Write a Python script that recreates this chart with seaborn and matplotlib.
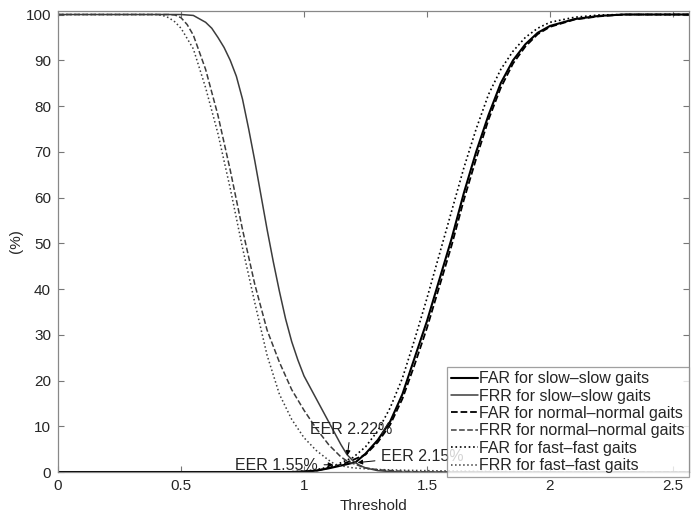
import numpy as np
import pandas as pd
import matplotlib
matplotlib.use("Agg")
import matplotlib.pyplot as plt
import seaborn as sns

# ===== 数据 =====
far_slow_x = [0, 0.95, 1.0, 1.05, 1.1, 1.15, 1.21, 1.25, 1.3, 1.35, 1.4, 1.45, 1.5, 1.55,
              1.6, 1.65, 1.7, 1.75, 1.8, 1.85, 1.9, 1.95, 2.0, 2.1, 2.2, 2.3, 2.565]
far_slow_y = [0, 0, 0.1, 0.3, 0.8, 1.4, 2.15, 4, 7, 11, 17, 25, 33, 42, 51, 61, 70, 78, 85,
              90, 93.5, 96, 97.5, 99, 99.7, 100, 100]

frr_slow_x = [0, 0.5, 0.55, 0.6, 0.625, 0.65, 0.675, 0.7, 0.725, 0.75, 0.775, 0.8, 0.825,
              0.85, 0.875, 0.9, 0.925, 0.95, 0.975, 1.0, 1.025, 1.05, 1.075, 1.1, 1.125,
              1.15, 1.175, 1.2, 1.225, 1.25, 1.3, 1.35, 1.4, 2.565]
frr_slow_y = [100, 100, 99.8, 98.3, 97, 95, 92.8, 90, 86.5, 81.5, 75, 68, 60.5, 53, 46,
              39.5, 33.5, 28.5, 24.5, 21, 18.5, 16, 13.5, 11, 8.5, 6, 3.8, 2.4, 1.5, 0.9,
              0.3, 0.1, 0, 0]

far_norm_x = [0, 0.95, 1.0, 1.05, 1.1, 1.15, 1.18, 1.25, 1.3, 1.35, 1.4, 1.45, 1.5, 1.55,
              1.6, 1.65, 1.7, 1.75, 1.8, 1.85, 1.9, 1.95, 2.0, 2.1, 2.2, 2.3, 2.565]
far_norm_y = [0, 0, 0.1, 0.3, 0.9, 1.6, 2.22, 3.8, 6.5, 10.3, 16, 23.5, 31.5, 40.5, 49.5,
              59.5, 68.5, 77, 84, 89.3, 93, 95.7, 97.3, 98.9, 99.6, 100, 100]

frr_norm_x = [0, 0.45, 0.475, 0.5, 0.525, 0.55, 0.6, 0.65, 0.7, 0.75, 0.8, 0.85, 0.9, 0.95,
              1.0, 1.05, 1.1, 1.15, 1.18, 1.25, 1.3, 1.4, 1.5, 2.565]
frr_norm_y = [100, 100, 99.9, 99.3, 97.8, 95.5, 88, 78, 66, 53, 41, 31, 24, 18, 13.5, 9.5,
              6, 3.3, 2.22, 0.9, 0.5, 0.15, 0, 0]

far_fast_x = [0, 0.92, 1.0, 1.05, 1.1, 1.13, 1.2, 1.25, 1.3, 1.35, 1.4, 1.45, 1.5, 1.55,
              1.6, 1.65, 1.7, 1.75, 1.8, 1.85, 1.9, 1.95, 2.0, 2.1, 2.2, 2.3, 2.565]
far_fast_y = [0, 0, 0.2, 0.5, 1.1, 1.55, 3.2, 5.5, 9, 14, 20.5, 29, 38, 47.5, 57, 66.5,
              75, 82.5, 88, 92, 95, 97, 98.3, 99.4, 99.9, 100, 100]

frr_fast_x = [0, 0.4, 0.425, 0.45, 0.475, 0.5, 0.55, 0.6, 0.65, 0.7, 0.75, 0.8, 0.85, 0.9,
              0.95, 1.0, 1.05, 1.1, 1.13, 1.2, 1.3, 1.4, 1.5, 1.7, 1.9, 2.2, 2.565]
frr_fast_y = [100, 100, 99.8, 99.3, 98.4, 97, 92.5, 84, 74, 62, 49, 37, 25.5, 17, 11.5,
              7.5, 4.7, 2.6, 1.55, 0.9, 0.55, 0.4, 0.3, 0.15, 0.08, 0, 0]

labels = ["FAR for slow\u2013slow gaits", "FRR for slow\u2013slow gaits",
          "FAR for normal\u2013normal gaits", "FRR for normal\u2013normal gaits",
          "FAR for fast\u2013fast gaits", "FRR for fast\u2013fast gaits"]
series_x = [far_slow_x, frr_slow_x, far_norm_x, frr_norm_x, far_fast_x, frr_fast_x]
series_y = [far_slow_y, frr_slow_y, far_norm_y, frr_norm_y, far_fast_y, frr_fast_y]

# 线型 / 颜色 / 线宽
styles = ["-", "-", "--", "--", ":", ":"]
colors = ["#000000", "#3c3c3c", "#000000", "#3c3c3c", "#000000", "#3c3c3c"]
widths = [1.5, 1.1, 1.3, 1.1, 1.2, 1.1]

sns.set_style("white")
plt.rcParams["font.family"] = ["Liberation Sans", "DejaVu Sans"]

fig = plt.figure(figsize=(6.91, 5.17), dpi=100)
ax = fig.add_axes([0.084, 0.087, 0.913, 0.892])

for i in range(6):
    df = pd.DataFrame({"x": series_x[i], "y": series_y[i]})
    sns.lineplot(data=df, x="x", y="y", ax=ax, color=colors[i], linestyle=styles[i],
                 linewidth=widths[i], label=labels[i], sort=False)

ax.set_xlim(0, 2.565)
ax.set_ylim(0, 100.8)
ax.set_xticks([0, 0.5, 1, 1.5, 2, 2.5])
ax.set_xticklabels(["0", "0.5", "1", "1.5", "2", "2.5"])
ax.set_yticks(range(0, 101, 10))
ax.tick_params(direction="in", length=4, width=0.8, color="#777777", labelsize=11,
               top=True, right=True, bottom=True, left=True, pad=5)
for s in ax.spines.values():
    s.set_color("#888888")
    s.set_linewidth(0.9)

ax.set_xlabel("Threshold", fontsize=11, labelpad=4)
ax.set_ylabel("(%)", fontsize=11, labelpad=2)

# EER 标注
arrow = dict(arrowstyle="-|>", color="black", lw=0.7, mutation_scale=7)
ax.annotate("EER 1.55%", xy=(1.13, 1.6), xytext=(1.057, 1.5), ha="right", va="center",
            fontsize=11.5, arrowprops=arrow)
ax.annotate("EER 2.22%", xy=(1.175, 3.0), xytext=(1.19, 9.4), ha="center", va="center",
            fontsize=11.5, arrowprops=arrow)
ax.annotate("EER 2.15%", xy=(1.207, 2.0), xytext=(1.313, 3.5), ha="left", va="center",
            fontsize=11.5, arrowprops=arrow)

leg = ax.legend(loc="lower right", bbox_to_anchor=(1.0, -0.011), borderaxespad=0,
                fontsize=11.5, frameon=True, fancybox=False, edgecolor="#888888",
                handlelength=1.7, handletextpad=0.1, labelspacing=0.15,
                borderpad=0.25)
leg.get_frame().set_linewidth(0.9)

fig.savefig("out.png", dpi=100)
